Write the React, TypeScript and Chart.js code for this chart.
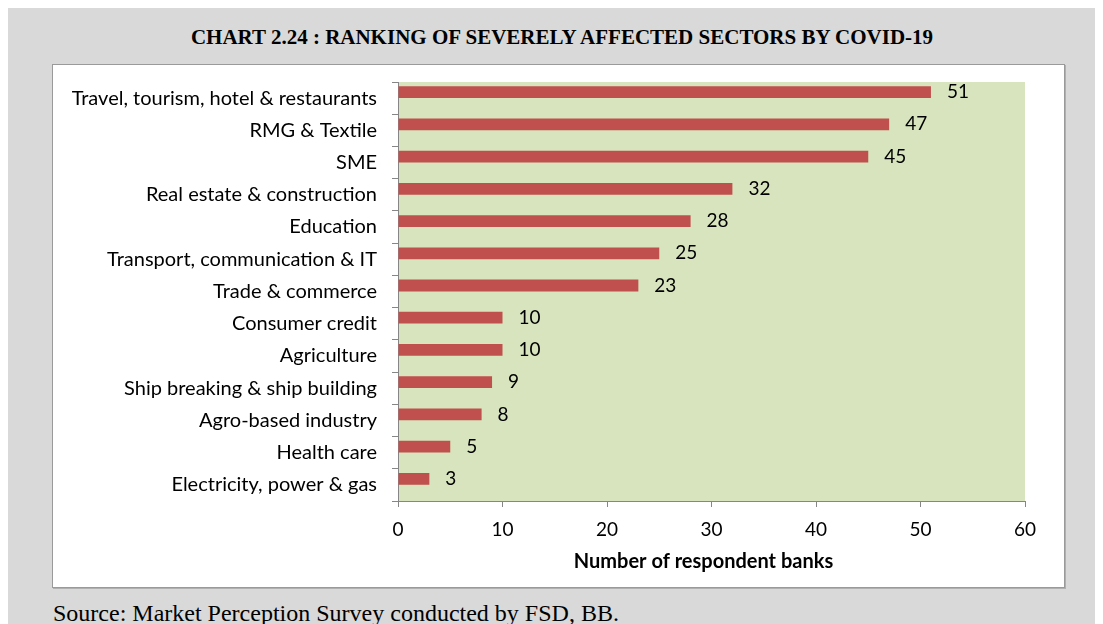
import React, { useEffect, useRef } from "react";
import { Chart, registerables } from "chart.js";

Chart.register(...registerables);

const TITLE = "CHART 2.24 : RANKING OF SEVERELY AFFECTED SECTORS BY COVID-19";
const SOURCE = "Source: Market Perception Survey conducted by FSD, BB.";
const X_TITLE = "Number of respondent banks";

const CATEGORIES = [
  "Travel, tourism, hotel & restaurants",
  "RMG & Textile",
  "SME",
  "Real estate & construction",
  "Education",
  "Transport, communication & IT",
  "Trade & commerce",
  "Consumer credit",
  "Agriculture",
  "Ship breaking & ship building",
  "Agro-based industry",
  "Health care",
  "Electricity, power & gas",
];
const RESPONDENTS = [51, 47, 45, 32, 28, 25, 23, 10, 10, 9, 8, 5, 3];
// empty second series (as in the original workbook) that keeps the bars in the upper half of each row
const EMPTY_SERIES = [null, null, null, null, null, null, null, null, null, null, null, null, null];
const X_TICKS = [0, 10, 20, 30, 40, 50, 60];

const BAR_COLOR = "#c0504d";
const PLOT_BG = "#d7e4bd";
const AXIS_COLOR = "#868686";
const SANS = "Lato";

const plotBg = {
  id: "plotBg",
  beforeDraw(chart: any) {
    const { ctx, chartArea } = chart;
    ctx.save();
    ctx.fillStyle = PLOT_BG;
    ctx.fillRect(chartArea.left, chartArea.top, chartArea.right - chartArea.left, chartArea.bottom - chartArea.top);
    ctx.restore();
  },
};

const valueLabels = {
  id: "valueLabels",
  afterDatasetsDraw(chart: any) {
    const { ctx } = chart;
    const meta = chart.getDatasetMeta(0);
    ctx.save();
    ctx.font = `19px ${SANS}`;
    ctx.fillStyle = "#000";
    ctx.textAlign = "left";
    ctx.textBaseline = "middle";
    meta.data.forEach((el: any, i: number) => {
      ctx.fillText(String(RESPONDENTS[i]), el.x + 16, el.y);
    });
    ctx.restore();
  },
};

const xTitle = {
  id: "xTitle",
  afterDraw(chart: any) {
    const { ctx, chartArea } = chart;
    ctx.save();
    ctx.font = `bold 20px ${SANS}`;
    ctx.fillStyle = "#000";
    ctx.textAlign = "center";
    ctx.textBaseline = "middle";
    ctx.fillText(X_TITLE, (chartArea.left + chartArea.right) / 2 - 8, chartArea.bottom + 61);
    ctx.restore();
  },
};

export default function App() {
  const ref = useRef<HTMLCanvasElement | null>(null);

  useEffect(() => {
    if (!ref.current) return;
    const chart = new Chart(ref.current, {
      type: "bar",
      data: {
        labels: CATEGORIES,
        datasets: [
          {
            label: "Respondents",
            data: RESPONDENTS,
            backgroundColor: BAR_COLOR,
            borderWidth: 0,
            categoryPercentage: 0.745,
            barPercentage: 0.98,
          },
          {
            label: "",
            data: EMPTY_SERIES as any,
            backgroundColor: "rgba(0,0,0,0)",
            borderWidth: 0,
            categoryPercentage: 0.745,
            barPercentage: 0.98,
          },
        ],
      },
      options: {
        indexAxis: "y",
        responsive: false,
        animation: false,
        layout: { padding: { top: 17, right: 39, left: 0, bottom: 0 } },
        plugins: {
          legend: { display: false },
          tooltip: { enabled: false },
        },
        scales: {
          y: {
            position: "left",
            afterFit: (s: any) => {
              s.width = 345;
              s.paddingTop = 0;
              s.paddingBottom = 0;
            },
            grid: {
              display: true,
              drawOnChartArea: false,
              tickLength: 6,
              color: AXIS_COLOR,
              offset: true,
            },
            border: { display: true, color: AXIS_COLOR, width: 1 },
            ticks: {
              font: { family: SANS, size: 20 },
              color: "#000",
              padding: 15,
              autoSkip: false,
            },
          },
          x: {
            position: "bottom",
            min: 0,
            max: 60,
            afterFit: (s: any) => {
              s.height = 86;
              s.paddingLeft = 0;
              s.paddingRight = 0;
            },
            afterBuildTicks: (s: any) => {
              s.ticks = X_TICKS.map((v) => ({ value: v }));
            },
            grid: {
              display: true,
              drawOnChartArea: false,
              tickLength: 6,
              color: AXIS_COLOR,
            },
            border: { display: true, color: AXIS_COLOR, width: 1 },
            ticks: {
              font: { family: SANS, size: 19 },
              color: "#000",
              padding: 11,
              maxRotation: 0,
            },
            title: { display: false },
          },
        },
      },
      plugins: [plotBg, valueLabels, xTitle],
    });
    return () => chart.destroy();
  }, []);

  return (
    <div
      style={{
        position: "relative",
        width: 1095,
        height: 616,
        background: "#d9d9d9",
        overflow: "hidden",
      }}
    >
      <div
        style={{
          position: "absolute",
          left: 554,
          top: 17,
          transform: "translateX(-50%)",
          whiteSpace: "nowrap",
          fontFamily: "'Liberation Serif', 'Times New Roman', serif",
          fontWeight: "bold",
          fontSize: 21,
          lineHeight: "24px",
          color: "#000",
        }}
      >
        {TITLE}
      </div>
      <div
        style={{
          position: "absolute",
          left: 44,
          top: 56,
          width: 1013,
          height: 524,
          boxSizing: "border-box",
          border: "1px solid #9a9a9a",
          boxShadow: "1px 1px 0 #b0b0b0",
          background: "#fff",
        }}
      >
        <canvas ref={ref} width={1011} height={522} style={{ display: "block" }} />
      </div>
      <div
        style={{
          position: "absolute",
          left: 45,
          top: 591,
          whiteSpace: "nowrap",
          fontFamily: "'Liberation Serif', 'Times New Roman', serif",
          fontSize: 24,
          lineHeight: "28px",
          color: "#000",
        }}
      >
        {SOURCE}
      </div>
    </div>
  );
}
